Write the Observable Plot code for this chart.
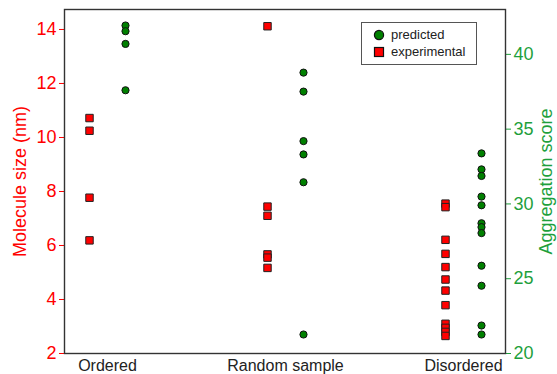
<!DOCTYPE html>
<html><head><meta charset="utf-8">
<script src="https://cdn.jsdelivr.net/npm/d3@7"></script>
<script src="https://cdn.jsdelivr.net/npm/@observablehq/plot@0.6"></script>
<style>
body{margin:0;background:#fff;font-family:"Liberation Sans",Arial,sans-serif;}
#wrap{position:relative;width:557px;height:374px;}
#legend{position:absolute;left:361px;top:22px;width:116px;height:43px;border:1.3px solid #555;box-sizing:border-box;font-size:13px;color:#222;background:#fff;}
#legend .sym{position:absolute;left:11px;}
#legend .lab{position:absolute;left:29px;line-height:14px;}
</style></head><body>
<div id="wrap"><div id="chart"></div>
<div id="legend">
  <svg class="sym" style="top:6px" width="12" height="12"><circle cx="6" cy="6" r="4.6" fill="#008000" stroke="#111" stroke-width="1.2"/></svg>
  <div class="lab" style="top:5px">predicted</div>
  <svg class="sym" style="top:23px" width="12" height="12"><rect x="1.5" y="1.5" width="9" height="9" fill="#ff0000" stroke="#111" stroke-width="1.2"/></svg>
  <div class="lab" style="top:22px">experimental</div>
</div></div>
<script>
const categories = ["Ordered", "Random sample", "Disordered"];
// experimental molecule size (nm), left axis
const expOrdered = [10.72, 10.25, 7.77, 6.19];
const expRandom = [14.12, 7.44, 7.1, 5.67, 5.55, 5.17];
const expDisordered = [7.55, 7.42, 6.21, 5.69, 5.2, 4.74, 4.33, 3.79, 3.1, 2.95, 2.8, 2.65];
// predicted aggregation score, right axis
const predOrdered = [41.93, 41.55, 40.7, 37.6];
const predRandom = [38.78, 37.51, 34.2, 33.31, 31.45, 21.27];
const predDisordered = [33.38, 32.31, 31.87, 30.49, 29.91, 28.71, 28.45, 28.05, 25.87, 24.53, 21.87, 21.27];
const leftTicks = [2, 4, 6, 8, 10, 12, 14];
const rightTicks = [20, 25, 30, 35, 40];
const leftDomain = [2, 14.74];
const rightDomain = [20, 43];

const toLeft = v => leftDomain[0] + (v - rightDomain[0]) * (leftDomain[1] - leftDomain[0]) / (rightDomain[1] - rightDomain[0]);
const toRight = u => rightDomain[0] + (u - leftDomain[0]) * (rightDomain[1] - rightDomain[0]) / (leftDomain[1] - leftDomain[0]);

const expLists = [expOrdered, expRandom, expDisordered];
const predLists = [predOrdered, predRandom, predDisordered];
const expData = expLists.flatMap((arr, i) => arr.map(v => ({cat: categories[i], v})));
const predData = predLists.flatMap((arr, i) => arr.map(v => ({cat: categories[i], v})));

const red = "#ff0000";
const green = "#1e9f3c";

const chart = Plot.plot({
  width: 557,
  height: 374,
  marginLeft: 64,
  marginRight: 52,
  marginTop: 9,
  marginBottom: 21,
  style: {fontFamily: "'Liberation Sans', Arial, sans-serif", fontSize: "16px", background: "#fff"},
  x: {type: "point", domain: categories, padding: 0.232},
  y: {domain: leftDomain},
  marks: [
    Plot.axisY(leftTicks, {anchor: "left", color: red, fontSize: 18, tickSize: 5, tickPadding: 3,
      label: "Molecule size (nm)", labelAnchor: "center", labelArrow: "none", labelOffset: 51}),
    Plot.axisY(rightTicks.map(toLeft), {anchor: "right", color: green, fontSize: 18, tickSize: 5, tickPadding: 3,
      tickFormat: u => Math.round(toRight(u)),
      label: "Aggregation score", labelAnchor: "center", labelArrow: "none", labelOffset: 46}),
    Plot.axisX({tickSize: 0, tickPadding: 6, fontSize: 16, color: "#222", label: null}),
    Plot.frame({stroke: "#333", strokeWidth: 1.4}),
    Plot.dot(expData, {x: "cat", y: "v", symbol: "square", r: 4.2, fill: red, stroke: "#222", strokeWidth: 1, dx: -18}),
    Plot.dot(predData, {x: "cat", y: d => toLeft(d.v), r: 3.6, fill: "#008000", stroke: "#111", strokeWidth: 1, dx: 18})
  ]
});
document.getElementById("chart").appendChild(chart);
</script>
</body></html>
